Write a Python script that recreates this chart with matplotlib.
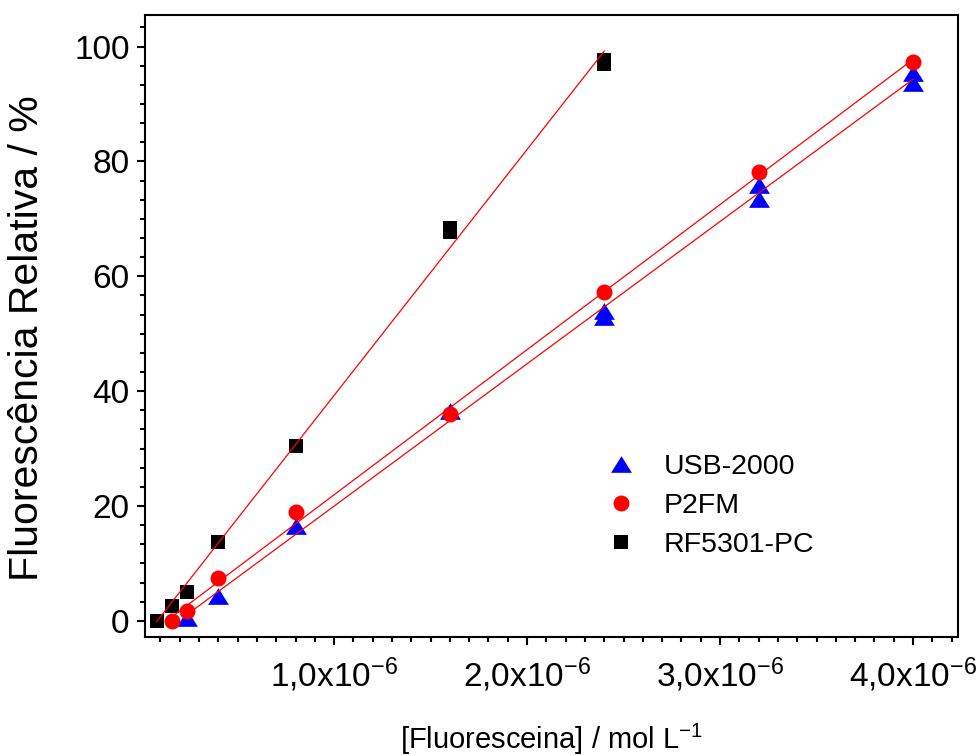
import numpy as np
import matplotlib
matplotlib.use("Agg")
import matplotlib.pyplot as plt
from matplotlib.ticker import MultipleLocator, AutoMinorLocator, FixedLocator, FixedFormatter

plt.rcParams['font.family'] = ['Liberation Sans', 'DejaVu Sans']
plt.rcParams['mathtext.fontset'] = 'custom'
plt.rcParams['mathtext.rm'] = 'Liberation Sans'
plt.rcParams['mathtext.it'] = 'Liberation Sans:italic'
plt.rcParams['mathtext.bf'] = 'Liberation Sans:bold'

# ---- data (concentration in mol/L, relative fluorescence in %) ----
usb_x = [0.24e-6, 0.4e-6, 0.8e-6, 1.6e-6, 2.4e-6, 2.4e-6, 3.2e-6, 3.2e-6, 4.0e-6, 4.0e-6]
usb_y = [0.5, 4.4, 16.6, 36.5, 53.9, 52.9, 75.9, 73.4, 95.4, 93.7]

p2fm_x = [0.16e-6, 0.24e-6, 0.4e-6, 0.8e-6, 1.6e-6, 2.4e-6, 3.2e-6, 4.0e-6]
p2fm_y = [0.0, 1.7, 7.4, 19.0, 36.1, 57.3, 78.2, 97.3]

rf_x = [0.08e-6, 0.16e-6, 0.24e-6, 0.4e-6, 0.8e-6, 1.6e-6, 1.6e-6, 2.4e-6, 2.4e-6]
rf_y = [0.0, 2.6, 5.0, 13.7, 30.5, 68.4, 67.8, 97.6, 96.9]

series_labels = ['USB-2000', 'P2FM', 'RF5301-PC']
xtick_values = [1e-6, 2e-6, 3e-6, 4e-6]
xtick_labels = [r'1,0x10$^{-6}$', r'2,0x10$^{-6}$', r'3,0x10$^{-6}$', r'4,0x10$^{-6}$']
ytick_values = [0, 20, 40, 60, 80, 100]

fig = plt.figure(figsize=(9.76, 7.56), dpi=100)
ax = fig.add_axes([145/976, 1-637/756, (958-145)/976, (637-15)/756])

tri = [(-1, -0.8), (1, -0.8), (0, 0.8)]

ax.plot(usb_x, usb_y, linestyle='none', marker=tri, markersize=15, color='#0000ff',
        markeredgewidth=0, label=series_labels[0], zorder=3)
ax.plot(p2fm_x, p2fm_y, linestyle='none', marker='o', markersize=11.5, color='#ff0000',
        markeredgewidth=0, label=series_labels[1], zorder=4)
ax.plot(rf_x, rf_y, linestyle='none', marker='s', markersize=10, color='black',
        markeredgewidth=0, label=series_labels[2], zorder=3)

# linear fits
for xs, ys in [(usb_x, usb_y), (p2fm_x, p2fm_y), (rf_x, rf_y)]:
    xs = np.asarray(xs); ys = np.asarray(ys)
    m, b = np.polyfit(xs, ys, 1)
    xx = np.array([xs.min(), xs.max()])
    ax.plot(xx, m*xx + b, color='#ff0000', linewidth=0.9, zorder=5)

ax.set_xlim(0.02e-6, 4.233e-6)
ax.set_ylim(-2.8, 105.5)

ax.xaxis.set_major_locator(FixedLocator(xtick_values))
ax.xaxis.set_major_formatter(FixedFormatter(xtick_labels))
ax.xaxis.set_minor_locator(MultipleLocator(1e-7))
ax.yaxis.set_major_locator(FixedLocator(ytick_values))
ax.yaxis.set_minor_locator(AutoMinorLocator(6))

for s in ax.spines.values():
    s.set_linewidth(1.5)

ax.tick_params(axis='both', which='major', direction='out', length=6, width=1.5,
               labelsize=24, pad=5)
ax.tick_params(axis='both', which='minor', direction='out', length=3.5, width=1.5)
ax.tick_params(axis='x', which='major', pad=7)

ax.set_ylabel('Fluorescência Relativa / %', fontsize=29.5)
ax.yaxis.set_label_coords(-0.122, 0.48)
ax.set_xlabel(r'[Fluoresceina] / mol L$^{-1}$', fontsize=21, labelpad=20)

leg = ax.legend(loc='upper left', bbox_to_anchor=(0.55, 0.312), frameon=False,
                fontsize=20.5, handlelength=1.2, handletextpad=0.9, labelspacing=0.45,
                borderaxespad=0)

fig.savefig('out.png', dpi=100)
